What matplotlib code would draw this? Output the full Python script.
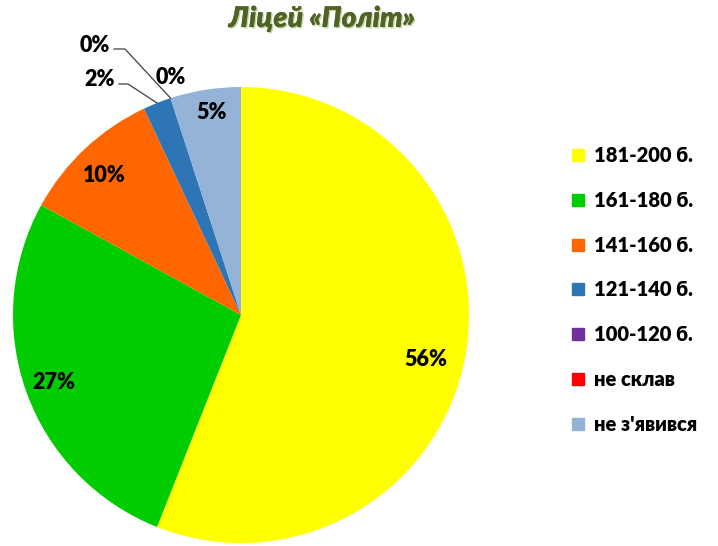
import numpy as np
import matplotlib
matplotlib.use("Agg")
import matplotlib.pyplot as plt
from matplotlib.lines import Line2D
import matplotlib.patheffects as pe

title = "Ліцей «Політ»"
categories = ["181-200 б.", "161-180 б.", "141-160 б.", "121-140 б.", "100-120 б.", "не склав", "не з'явився"]
values = [56, 27, 10, 2, 0, 0, 5]
colors = ["#FFFF00", "#00CC00", "#FF6600", "#2E75B6", "#7030A0", "#FF0000", "#95B3D7"]

W, H = 718, 546
fig = plt.figure(figsize=(W / 100, H / 100), dpi=100)
cx, cy, R = 241, 315, 228
ax = fig.add_axes([(cx - R) / W, (H - cy - R) / H, 2 * R / W, 2 * R / H])
ax.axis("off")

wedges, _ = ax.pie(values, colors=colors, startangle=90, counterclock=False,
                   radius=1, wedgeprops=dict(linewidth=0))
ax.set_xlim(-1, 1)
ax.set_ylim(-1, 1)
ax.set_aspect("auto")

font = "Lato"
lab_kw = dict(fontsize=15.5, fontweight="heavy", color="black", family=font,
              ha="center", va="center")

total = sum(values)
mids = []
start = 90.0
for v in values:
    sweep = 360.0 * v / total
    mids.append(start - sweep / 2)
    start -= sweep

def pd(x, y):
    return ((x - cx) / R, (cy - y) / R)

# inside labels: (index, radius fraction, pixel nudge x, y)
inside = [(0, 0.85, -6, 8), (1, 0.87, 0, 0), (2, 0.87, -1, 5), (6, 0.9, 3, 0)]
for i, r, nx, ny in inside:
    a = np.deg2rad(mids[i])
    ax.text(r * np.cos(a) + nx / R, r * np.sin(a) - ny / R, f"{values[i]}%", **lab_kw)

def leader(i, tx, ty, lx0, lx1):
    a = np.deg2rad(mids[i])
    ex, ey = np.cos(a), np.sin(a)
    x0, y0 = pd(lx0, ty + 4)
    x1, y1 = pd(lx1, ty + 4)
    ax.plot([x0, x1, ex], [y0, y1, ey], color="#404040", lw=0.9, clip_on=False)
    px, py = pd(tx, ty)
    ax.text(px, py, f"{values[i]}%", clip_on=False, **lab_kw)

leader(3, 100, 80, 119, 128)   # 2%
leader(4, 95, 45, 114, 125)    # 0% (purple)
px, py = pd(171, 78)
ax.text(px, py, f"{values[5]}%", clip_on=False, **lab_kw)  # 0% (red)

fig.text(322 / W, 1 - 19 / H, title, ha="center", va="center", fontsize=20.5,
         fontweight="heavy", style="italic", color="#4F6228", family=font,
         path_effects=[pe.withSimplePatchShadow(offset=(1, -1), shadow_rgbFace="#9BBB59", alpha=0.6),
                       pe.Normal()])

handles = [Line2D([0], [0], marker="s", linestyle="none", markersize=9,
                  markerfacecolor=c, markeredgecolor=c) for c in colors]
leg = fig.legend(handles, categories, loc="upper left",
                 bbox_to_anchor=(563 / W, 1 - 138 / H), frameon=False,
                 prop=dict(family=font, weight="heavy", size=14.5),
                 handlelength=0.7, handletextpad=0.45, labelspacing=1.28,
                 borderaxespad=0)

fig.savefig("out.png", dpi=100)
